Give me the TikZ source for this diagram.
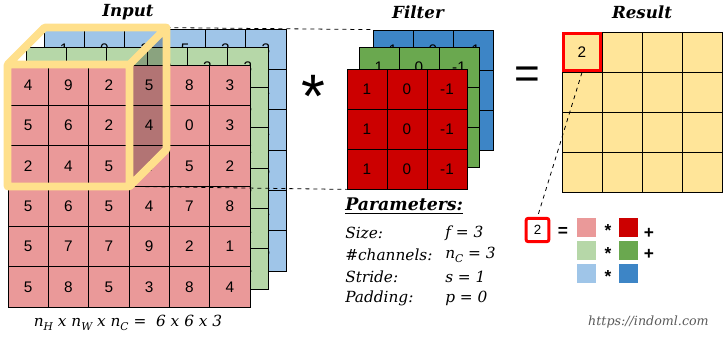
\documentclass[tikz,border=0pt]{standalone}
\usepackage{fontspec}
\setmainfont{DejaVu Serif}
\setsansfont{Liberation Sans}
\usetikzlibrary{positioning}
\definecolor{inred}{HTML}{EA9999}
\definecolor{ingreen}{HTML}{B6D7A8}
\definecolor{inblue}{HTML}{9FC5E8}
\definecolor{fred}{HTML}{CC0000}
\definecolor{fgreen}{HTML}{6AA84F}
\definecolor{fblue}{HTML}{3D85C6}
\definecolor{resyellow}{HTML}{FFE599}
\definecolor{cubeyellow}{HTML}{FFE08C}
\definecolor{urlgray}{HTML}{5A5A5A}
\newcommand{\lsub}[1]{\raisebox{-0.5ex}{\fontsize{8}{8}\selectfont #1}}

\begin{document}
\begin{tikzpicture}[x=0.75pt, y=-0.75pt,
      incell/.style={draw, line width=0.6pt, minimum size=30.25pt, inner sep=0pt,
                     font=\sffamily\fontsize{11.5}{12}\selectfont},
      fcell/.style={incell, minimum size=30pt},
      title/.style={font=\bfseries\itshape\fontsize{12.5}{14}\selectfont},
      param/.style={anchor=west, inner sep=0pt, font=\itshape\fontsize{11.5}{13}\selectfont},
      swatch/.style={minimum size=14.25pt, inner sep=0pt},
      op/.style={inner sep=0pt, font=\sffamily\bfseries\fontsize{13}{13}\selectfont},
      guide/.style={dashed, line width=0.6pt}]
    \useasboundingbox (0,0) rectangle (728,340);

    % input volume, back to front (hidden digits left out)
    \foreach \row [count=\i from 0] in {{1,0,3,5,2,3},{,,,,,1},{,,,,,2},{,,,,,5},{,,,,,1},{,,,,,6}}
      \foreach \v [count=\j from 0] in \row
        \node[incell, fill=inblue] (inb-\i-\j) at (64.17+\j*40.33, 49.17+\i*40.33) {\v};
    \foreach \row [count=\i from 0] in {{1,0,3,0,3,3},{,,,,,3},{,,,,,2},{,,,,,8},{,,,,,1},{,,,,,4}}
      \foreach \v [count=\j from 0] in \row
        \node[incell, fill=ingreen] (ing-\i-\j) at (46.17+\j*40.33, 67.17+\i*40.33) {\v};
    \foreach \row [count=\i from 0] in {{4,9,2,5,8,3},{5,6,2,4,0,3},{2,4,5,4,5,2},{5,6,5,4,7,8},{5,7,7,9,2,1},{5,8,5,3,8,4}}
      \foreach \v [count=\j from 0] in \row
        \node[incell, fill=inred] (inr-\i-\j) at (28.17+\j*40.33, 85.17+\i*40.33) {\v};

    % filter, back to front
    \foreach \lay/\col/\ox/\oy in {b/fblue/373/30, g/fgreen/359/47}
      \foreach \row [count=\i from 0] in {{1,0,-1},{,,-1},{,,-1}}
        \foreach \v [count=\j from 0] in \row
          \node[fcell, fill=\col] (f\lay-\i-\j) at (\ox+20+\j*40, \oy+20+\i*40) {\v};
    \foreach \row [count=\i from 0] in {{1,0,-1},{1,0,-1},{1,0,-1}}
      \foreach \v [count=\j from 0] in \row
        \node[fcell, fill=fred] (fr-\i-\j) at (367+\j*40, 89+\i*40) {\v};

    % result
    \foreach \i in {0,...,3}
      \foreach \j in {0,...,3}
        \node[fcell, fill=resyellow] (rs-\i-\j) at (582+\j*40, 52+\i*40) {};
    \node[font=\sffamily\fontsize{11.5}{12}\selectfont] (rsval) at (rs-0-0) {2};
    \draw[red, line width=2.6pt] ([shift={(1.75,1.75)}]rs-0-0.north west)
      rectangle ([shift={(-1.75,-1.75)}]rs-0-0.south east);

    % receptive field cube
    \coordinate (cbl) at ([shift={(37,-37)}]inr-0-0.north west);
    \coordinate (cbr) at ([shift={(37,-37)}]inr-0-2.north east);
    \coordinate (cbd) at ([shift={(37,-37)}]inr-2-2.south east);
    \fill[black, opacity=0.24] (inr-0-2.north east) -- (cbr) -- (cbd) -- (inr-2-2.south east) -- cycle;
    \draw[guide] (cbr) -- (fb-0-0.north west);
    \draw[guide] (inr-2-2.south east) -- (fr-2-0.south west);
    \draw[cubeyellow, line width=5.8pt, line join=round]
      (inr-0-0.north west) rectangle (inr-2-2.south east)
      (inr-0-0.north west) -- (cbl) -- (cbr) -- (inr-0-2.north east)
      (cbr) -- (cbd) -- (inr-2-2.south east);

    % titles and operators
    \node[title] (tin) at (128,12) {Input};
    \node[title] (tfil) at (418,12) {Filter};
    \node[title] (tres) at (642,12) {Result};
    \node[inner sep=0pt, font=\sffamily\fontsize{46}{46}\selectfont] (star) at (313,96) {*};
    \node[inner sep=0pt, font=\sffamily\fontsize{33}{33}\selectfont] (eq) at (527,78) {=};

    % sizes and parameters
    \node[font=\itshape\fontsize{11.5}{13}\selectfont] (dims) at (128,323)
      {n\lsub{H} x n\lsub{W} x n\lsub{C} = ~6 x 6 x 3};
    \node[param, font=\bfseries\itshape\fontsize{13}{14}\selectfont] (ptitle) at (345,206) {\underline{Parameters:}};
    \node[param] (p1) at (345,233) {Size:};
    \node[param] (p2) at (345,255) {\#channels:};
    \node[param] (p3) at (345,277) {Stride:};
    \node[param] (p4) at (345,298) {Padding:};
    \node[param] (v1) at (445,233) {f = 3};
    \node[param] (v2) at (445,255) {n\lsub{C} = 3};
    \node[param] (v3) at (445,277) {s = 1};
    \node[param] (v4) at (445,298) {p = 0};

    % first output value, channel by channel
    \node[draw=red, line width=2.2pt, rounded corners=1.5pt, fill=white, minimum width=17pt,
          minimum height=17.5pt, inner sep=0pt, font=\sffamily\fontsize{10}{10}\selectfont] (two) at (537.5,230) {2};
    \draw[guide] (rs-0-0.south) -- (two.north);
    \node[op] (seq) at (563,232) {=};
    \foreach \k/\ca/\cb in {0/inred/fred, 1/ingreen/fgreen, 2/inblue/fblue} {
      \node[swatch, fill=\ca] (sa\k) at (586.5, 227.5+\k*23) {};
      \node[swatch, fill=\cb] (sb\k) at (628.5, 227.5+\k*23) {};
      \node[op] (sm\k) at (608, 231+\k*23) {*};
    }
    \node[op] (pl0) at (649,233) {+};
    \node[op] (pl1) at (649,254) {+};
    \node[anchor=east, inner sep=0pt, text=urlgray, font=\itshape\fontsize{9.5}{10}\selectfont] (url) at (709,322)
      {https://indoml.com};
  \end{tikzpicture}
\end{document}
